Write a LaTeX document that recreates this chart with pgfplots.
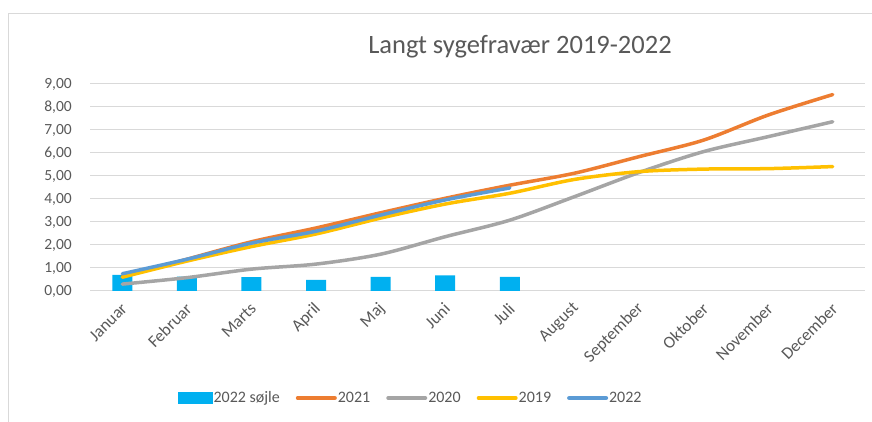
\documentclass[border=0pt]{standalone}
\usepackage{fontspec}
\setmainfont{Carlito}
\usepackage{pgfplots}
\pgfplotsset{compat=1.18}
\definecolor{barc}{HTML}{00B0F0}
\definecolor{c21}{HTML}{ED7D31}
\definecolor{c20}{HTML}{A5A5A5}
\definecolor{c19}{HTML}{FFC000}
\definecolor{c22}{HTML}{5B9BD5}
\definecolor{gridc}{HTML}{D9D9D9}
\definecolor{txt}{HTML}{595959}
\begin{document}
\begin{tikzpicture}
\useasboundingbox (0,0) rectangle (872pt,422pt);
\fill[white] (0,0) rectangle (872pt,422pt);
\draw[gridc, line width=1pt] (8pt,0pt) -- (8pt,408pt) -- (872pt,408pt);
\node[text=txt, font=\fontsize{26.5}{30}\selectfont] at (520pt,375pt) {Langt sygefravær 2019-2022};
\begin{axis}[
  at={(90pt,131pt)}, anchor=south west,
  scale only axis, width=775pt, height=207pt,
  xmin=-0.5, xmax=11.5, ymin=0, ymax=9,
  xtick={0,...,11},
  xticklabels={Januar,Februar,Marts,April,Maj,Juni,Juli,August,September,Oktober,November,December},
  ytick={0,1,...,9},
  axis line style={draw=none},
  major tick length=0pt,
  ymajorgrids, grid style={gridc, line width=1pt},
  /pgf/number format/.cd, fixed, fixed zerofill, precision=2, use comma, assume math mode=true,
  /pgfplots/.cd,
  tick label style={text=txt, font=\fontsize{15.5}{18}\selectfont},
  yticklabel style={inner sep=0pt, xshift=-18pt},
  xticklabel style={inner sep=0pt, yshift=-15pt, xshift=2pt, rotate=45, anchor=east, font=\fontsize{17}{20}\selectfont},
  legend columns=5,
  legend style={at={(0.413,-0.517)}, anchor=center, draw=none, fill=none,
    font=\fontsize{16}{19}\selectfont, text=txt,
    /tikz/every even column/.append style={column sep=15pt},
    nodes={inner sep=1pt}},
]
\addplot[ybar, bar width=20pt, fill=barc, draw=none,
  legend image code/.code={\fill[barc] (0pt,-6pt) rectangle (35pt,6pt);}]
  coordinates {(0,0.70) (1,0.62) (2,0.60) (3,0.48) (4,0.61) (5,0.68) (6,0.61)};
\addlegendentry{2022 søjle}
\addplot[c21, line width=3.5pt, smooth, line cap=round,
  legend image code/.code={\draw[c21, line width=4pt] (0pt,0pt) -- (37pt,0pt);}]
  coordinates {(0,0.62) (1,1.38) (2,2.14) (3,2.74) (4,3.40) (5,4.03) (6,4.60) (7,5.12) (8,5.84) (9,6.56) (10,7.65) (11,8.54)};
\addlegendentry{2021}
\addplot[c20, line width=3.5pt, smooth, line cap=round,
  legend image code/.code={\draw[c20, line width=4pt] (0pt,0pt) -- (37pt,0pt);}]
  coordinates {(0,0.30) (1,0.58) (2,0.95) (3,1.17) (4,1.60) (5,2.36) (6,3.08) (7,4.10) (8,5.15) (9,6.06) (10,6.71) (11,7.36)};
\addlegendentry{2020}
\addplot[c19, line width=3.5pt, smooth, line cap=round,
  legend image code/.code={\draw[c19, line width=4pt] (0pt,0pt) -- (37pt,0pt);}]
  coordinates {(0,0.60) (1,1.30) (2,1.93) (3,2.48) (4,3.17) (5,3.78) (6,4.25) (7,4.85) (8,5.19) (9,5.30) (10,5.32) (11,5.41)};
\addlegendentry{2019}
\addplot[c22, line width=3.5pt, smooth, line cap=round,
  legend image code/.code={\draw[c22, line width=4pt] (0pt,0pt) -- (37pt,0pt);}]
  coordinates {(0,0.75) (1,1.38) (2,2.08) (3,2.60) (4,3.30) (5,3.96) (6,4.48)};
\addlegendentry{2022}
\end{axis}
\end{tikzpicture}
\end{document}
